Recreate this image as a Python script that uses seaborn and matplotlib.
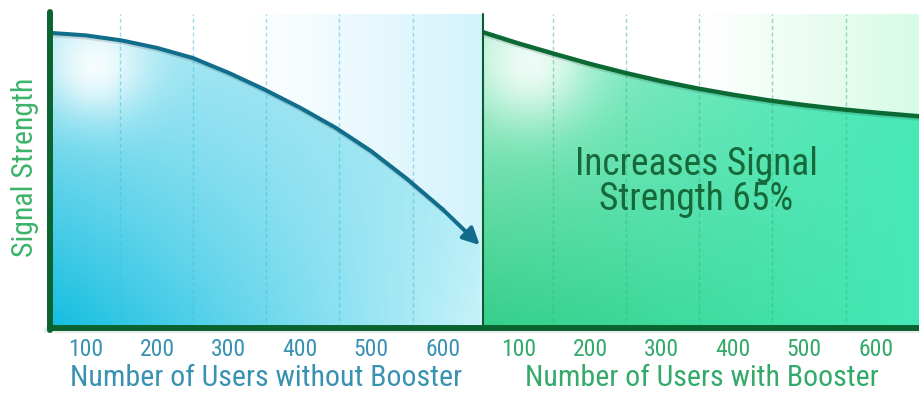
import numpy as np
import matplotlib
matplotlib.use("Agg")
import matplotlib.pyplot as plt
import matplotlib.patheffects as pe
from matplotlib.lines import Line2D
from matplotlib.colors import to_rgb
from matplotlib import font_manager
import pandas as pd
import seaborn as sns

# ---- data -------------------------------------------------------------
users_without = [50, 100, 150, 200, 250, 300, 350, 400, 450, 500, 550, 600, 652]
signal_without = [94.0, 93.2, 91.6, 89.2, 86.0, 81.3, 76.0, 70.2, 63.8, 56.3, 47.5, 37.8, 26.4]

users_with = [50, 100, 150, 200, 250, 300, 350, 400, 450, 500, 550, 600, 662]
signal_with = [94.2, 90.6, 87.3, 84.1, 81.2, 78.6, 76.3, 74.3, 72.5, 71.0, 69.7, 68.6, 67.4]

tick_values = [100, 200, 300, 400, 500, 600]
tick_labels = ["100", "200", "300", "400", "500", "600"]
grid_users = [148, 250, 352, 455, 558]

title_without = "Number of Users without Booster"
title_with = "Number of Users with Booster"
y_title = "Signal Strength"
callout = "Increases Signal\nStrength 65%"

# ---- style ------------------------------------------------------------
sns.set_theme(style="white")
available = {f.name for f in font_manager.fontManager.ttflist}
family = next((f for f in ["Liberation Sans Narrow", "Roboto Condensed", "Open Sans"]
               if f in available), "DejaVu Sans")
plt.rcParams["font.family"] = [family, "DejaVu Sans"]

DARK_GREEN = "#0b6430"
BLUE_LINE = "#106d8c"
GREEN_LINE = "#0b6a33"
BLUE_TEXT = "#3a92b2"
GREEN_TEXT = "#33a96a"

W, H = 920, 393
fig = plt.figure(figsize=(W / 100, H / 100), dpi=100)


def box(x0, x1, ytop, ybot):
    return [x0 / W, 1 - ybot / H, (x1 - x0) / W, (ybot - ytop) / H]


ax_l = fig.add_axes(box(50, 483, 14, 328))
ax_r = fig.add_axes(box(483, 920, 14, 328))
ax_l.set_xlim(50, 656.5)
ax_r.set_xlim(50, 662)
for ax in (ax_l, ax_r):
    ax.set_ylim(0, 100)
    ax.set_facecolor("none")
    for s in ax.spines.values():
        s.set_visible(False)
    ax.set_yticks([])


def corner_gradient(wpx, hpx, bl, br, tl, tr, glow=None):
    u = np.linspace(0, 1, wpx)[None, :, None]
    v = np.linspace(0, 1, hpx)[:, None, None]
    bl, br, tl, tr = (np.array(to_rgb(c)) for c in (bl, br, tl, tr))
    img = (1 - u) * (1 - v) * bl + u * (1 - v) * br + (1 - u) * v * tl + u * v * tr
    if glow is not None:
        gx, gy, sig, amp = glow
        X = u[..., 0] * wpx
        Y = v[..., 0] * hpx
        w = amp * np.exp(-((X - gx) ** 2 + (Y - gy) ** 2) / (2 * sig ** 2))
        img = img * (1 - w[..., None]) + w[..., None]
    return np.clip(img, 0, 1)


def horizontal_wash(wpx, hpx, start_frac, end_color):
    u = np.linspace(0, 1, wpx)
    t = np.clip((u - start_frac) / (1 - start_frac), 0, 1)
    end = np.array(to_rgb(end_color))
    row = (1 - t)[:, None] * np.ones(3) + t[:, None] * end
    return np.repeat(row[None, :, :], hpx, axis=0)


def panel(ax, xs, ys, bg, fill_img, line_color, grid_color, draw_arrow):
    x0, x1 = ax.get_xlim()
    ext = [x0, x1, 0, 100]
    ax.imshow(bg, extent=ext, origin="lower", aspect="auto", zorder=0,
              interpolation="bilinear")
    poly = ax.fill_between(xs, ys, 0, facecolor="none", edgecolor="none")
    im = ax.imshow(fill_img, extent=ext, origin="lower", aspect="auto", zorder=1,
                   interpolation="bilinear")
    im.set_clip_path(poly.get_paths()[0], transform=ax.transData)
    for g in grid_users:
        ax.axvline(g, color=grid_color, lw=1.0, alpha=0.5,
                   linestyle=(0, (3, 2)), zorder=2)
    shadow = [pe.SimpleLineShadow(offset=(0.6, -1.6), shadow_color="#000000",
                                  alpha=0.12), pe.Normal()]
    df = pd.DataFrame({"users": xs, "signal": ys})
    if draw_arrow:
        sns.lineplot(data=df.iloc[:-1], x="users", y="signal", ax=ax,
                     color=line_color, lw=2.9, zorder=4,
                     path_effects=shadow)
        ax.annotate("", xy=(xs[-1], ys[-1]), xytext=(xs[-2], ys[-2]),
                    arrowprops=dict(arrowstyle="-|>,head_length=1.0,head_width=0.5",
                                    color=line_color, lw=2.9, shrinkA=0, shrinkB=0,
                                    mutation_scale=10),
                    zorder=5)
    else:
        sns.lineplot(data=df, x="users", y="signal", ax=ax, color=line_color,
                     lw=3.2, zorder=4, path_effects=shadow)
    ax.set_xlabel("")
    ax.set_ylabel("")


# left panel
wl, hl = 433, 314
bg_l = horizontal_wash(wl, hl, 0.46, "#d3f3fc")
fill_l = corner_gradient(wl, hl, "#12bde0", "#c8f3fa", "#b5ebf5", "#9fe5f1",
                         glow=(45, 263, 36, 0.9))
panel(ax_l, users_without, signal_without, bg_l, fill_l, BLUE_LINE, "#3cbede", True)

# right panel
wr, hr = 437, 314
bg_r = horizontal_wash(wr, hr, 0.5, "#d6fbe6")
fill_r = corner_gradient(wr, hr, "#35cf89", "#47e9b8", "#a8eecf", "#46e8b6",
                         glow=(47, 265, 42, 0.85))
panel(ax_r, users_with, signal_with, bg_r, fill_r, GREEN_LINE, "#33b87a", False)

ax_r.text(349, 46.5, callout, ha="center", va="center", fontsize=27,
          linespacing=0.95, color="#17693a", zorder=6)

# ticks and titles
for ax, col, title in ((ax_l, BLUE_TEXT, title_without), (ax_r, GREEN_TEXT, title_with)):
    ax.set_xticks(tick_values, labels=tick_labels)
    ax.tick_params(axis="x", length=0, pad=7, labelsize=17, labelcolor=col)
    ax.set_xlabel(title, fontsize=21.5, color=col, labelpad=2)

fig.text(25 / W, 1 - 167 / H, y_title, rotation=90, ha="center", va="center",
         fontsize=21.5, color="#3db36a")

# frame lines: thick axis, divider between panels
fig.add_artist(Line2D([483.5 / W, 483.5 / W], [1 - 14 / H, 1 - 328 / H],
                      color="#0c5c32", lw=1.5, zorder=7))
fig.add_artist(Line2D([47 / W, 1.0], [1 - 330 / H, 1 - 330 / H],
                      color="#000000", alpha=0.08, lw=4.5, zorder=7))
fig.add_artist(Line2D([47 / W, 1.0], [1 - 328 / H, 1 - 328 / H],
                      color=DARK_GREEN, lw=4.3, solid_capstyle="butt", zorder=8))
fig.add_artist(Line2D([50.3 / W, 50.3 / W], [1 - 12 / H, 1 - 330 / H],
                      color=DARK_GREEN, lw=4.3, solid_capstyle="round", zorder=8))

fig.savefig("out.png", dpi=100)
